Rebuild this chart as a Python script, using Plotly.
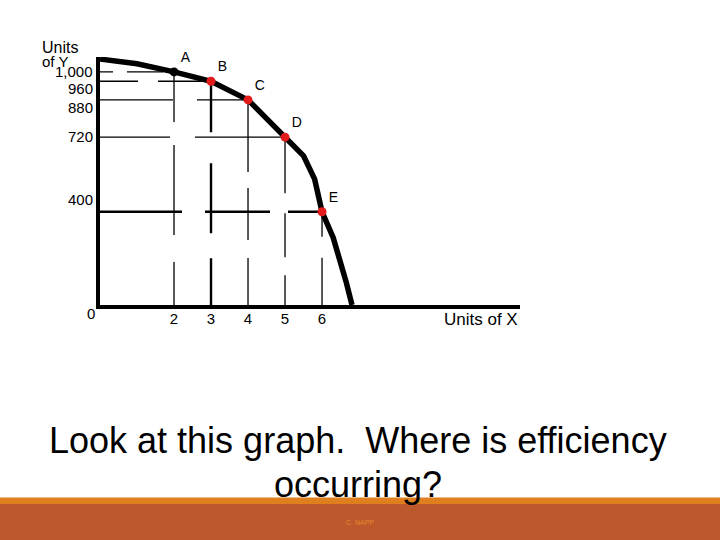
import plotly.graph_objects as go

# ---- data ----
point_labels = ["A", "B", "C", "D", "E"]
units_x = [2, 3, 4, 5, 6]
units_y = [1000, 960, 880, 720, 400]
point_colors = ["black", "#E31B1B", "#E31B1B", "#E31B1B", "#E31B1B"]

curve_x = [0, 1, 2, 3, 4, 5, 5.5, 5.8, 6, 6.3, 6.5, 6.65, 6.81]
curve_y = [1055, 1035, 1000, 960, 880, 720, 640, 540, 400, 290, 190, 100, 0]

x_tick_vals = [2, 3, 4, 5, 6]
y_tick_vals = [1000, 960, 880, 720, 400]
y_tick_text = ["1,000", "960", "880", "720", "400"]

# ---- styles ----
# label offsets (px) so the y labels sit where the hand-drawn original puts them
y_label_shift = [0, -7, -8, 1, 12]
# broken guide line styles (dash patterns imitate the gaps of the original drawing)
h_dash = ["13px,14px,36px,4px,300px", "38px,20px,300px", "73px,24px,300px",
          "70px,25px,300px", "82px,23px,65px,18px,300px"]
h_width = [1.3, 1.3, 1.3, 1.3, 2.4]
v_dash = ["50px,23px,90px,27px,300px", "51px,31px,70px,25px,300px",
          "72px,16px,52px,18px,300px", "56px,20px,44px,18px,300px",
          "25px,21px,300px"]
v_width = [1.3, 2.4, 1.3, 1.3, 1.3]

FONT = "Liberation Sans, Arial, sans-serif"

fig = go.Figure()

# horizontal guides (from y-axis to the point)
for i in range(len(units_x)):
    fig.add_trace(go.Scatter(x=[0, units_x[i]], y=[units_y[i], units_y[i]], mode="lines",
                             line=dict(color="black", width=h_width[i], dash=h_dash[i]),
                             hoverinfo="skip", showlegend=False))
# vertical guides (from the point down to the x-axis)
for i in range(len(units_x)):
    fig.add_trace(go.Scatter(x=[units_x[i], units_x[i]], y=[units_y[i], 0], mode="lines",
                             line=dict(color="black", width=v_width[i], dash=v_dash[i]),
                             hoverinfo="skip", showlegend=False))

# production possibilities curve
fig.add_trace(go.Scatter(x=curve_x, y=curve_y, mode="lines",
                         line=dict(color="black", width=5.5),
                         hoverinfo="skip", showlegend=False))

# points with labels
fig.add_trace(go.Scatter(x=units_x, y=units_y, mode="markers+text",
                         marker=dict(color=point_colors, size=9),
                         text=point_labels, textposition="top right",
                         textfont=dict(family=FONT, size=14, color="black"),
                         cliponaxis=False, hoverinfo="skip", showlegend=False))

fig.update_xaxes(range=[0, 11.35], showgrid=False, zeroline=False, automargin=False,
                 showline=True, linecolor="black", linewidth=4,
                 tickvals=x_tick_vals, ticks="", ticklabelstandoff=-3,
                 tickfont=dict(family=FONT, size=15, color="black"))
fig.update_yaxes(range=[0, 1064], showgrid=False, zeroline=False, automargin=False,
                 showline=True, linecolor="black", linewidth=4,
                 showticklabels=False, ticks="")

annotations = []
# y-axis value labels
for v, t, s in zip(y_tick_vals, y_tick_text, y_label_shift):
    annotations.append(dict(text=t, x=0, y=v, xref="x", yref="y", showarrow=False,
                            xanchor="right", yanchor="middle", xshift=-5, yshift=s,
                            font=dict(family=FONT, size=15, color="black")))
annotations += [
    dict(text="0", x=0, y=0, xref="x", yref="y", showarrow=False,
         xshift=-9, yshift=-8, font=dict(family=FONT, size=15, color="black")),
    dict(text="<span style='font-size:16px'>Units</span><br>"
              "<span style='font-size:15px'>of Y</span>",
         x=-0.143, y=1.012, xref="paper", yref="paper",
         xanchor="left", yanchor="middle", align="left", showarrow=False,
         font=dict(family=FONT, size=10.5, color="black")),
    dict(text="Units of X", x=0.814, y=-0.06, xref="paper", yref="paper",
         xanchor="left", yanchor="middle", showarrow=False,
         font=dict(family=FONT, size=17, color="black")),
    dict(text="Look at this graph.\u00a0 Where is efficiency", x=0.6131, y=-0.548,
         xref="paper", yref="paper", xanchor="center", yanchor="middle",
         showarrow=False, font=dict(family=FONT, size=36, color="black")),
    dict(text="occurring?", x=0.6131, y=-0.722,
         xref="paper", yref="paper", xanchor="center", yanchor="middle",
         showarrow=False, font=dict(family=FONT, size=36, color="black")),
    dict(text="C. NAPP", x=0.619, y=-0.879, xref="paper", yref="paper",
         xanchor="center", yanchor="middle", showarrow=False,
         font=dict(family=FONT, size=7, color="#E8892F")),
]

shapes = [
    dict(type="rect", xref="paper", yref="paper", x0=-0.25, x1=1.5,
         y0=-0.776, y1=-0.802, fillcolor="#E07F1E", line=dict(width=0), layer="below"),
    dict(type="rect", xref="paper", yref="paper", x0=-0.25, x1=1.5,
         y0=-0.802, y1=-0.96, fillcolor="#BC582C", line=dict(width=0), layer="below"),
]

fig.update_layout(width=720, height=540,
                  margin=dict(l=100, r=200, t=57, b=235, pad=0),
                  paper_bgcolor="white", plot_bgcolor="white",
                  annotations=annotations, shapes=shapes)

fig.write_html("out.html", config={"displayModeBar": False},
               post_script="document.body.style.margin='0';")
